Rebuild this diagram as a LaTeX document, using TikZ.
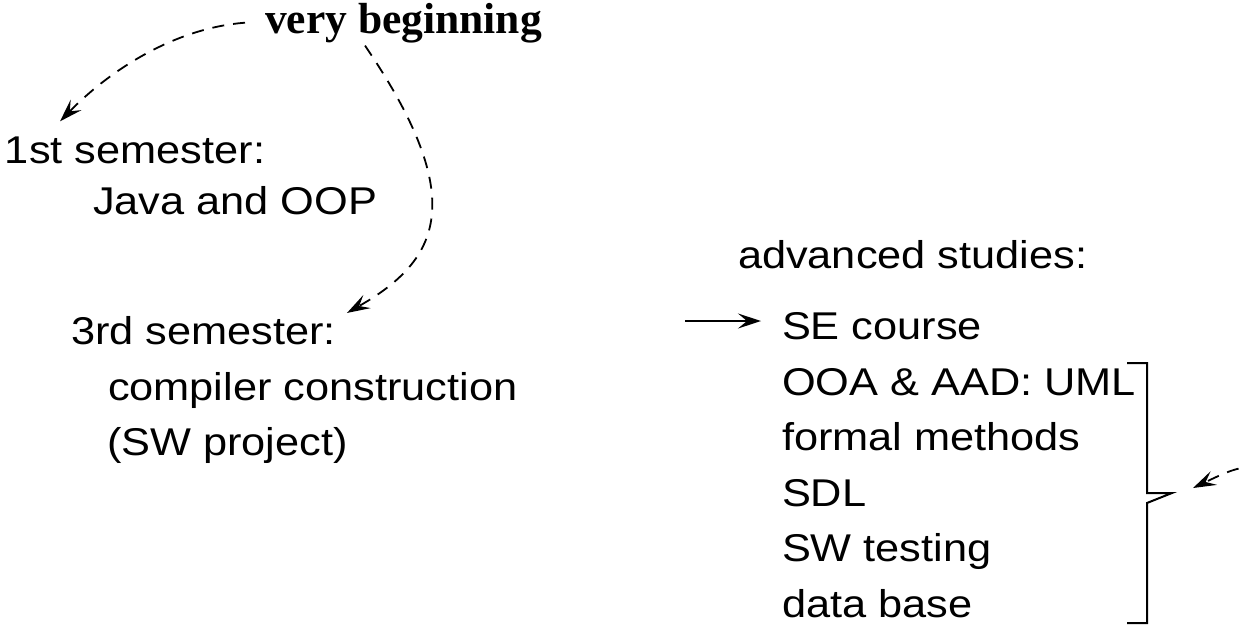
\documentclass[tikz,border=0pt]{standalone}
\usepackage{fontspec}
\usetikzlibrary{arrows.meta,calc}
\newfontfamily\sansf[FakeStretch=1.12]{Liberation Sans}
\newfontfamily\serifb{Liberation Serif}
\begin{document}
\begin{tikzpicture}[x=1pt,y=-1pt,
  lbl/.style={anchor=base west, inner sep=0pt, outer sep=0pt, font=\sansf\fontsize{38.7}{46}\selectfont},
  ttl/.style={anchor=base west, inner sep=0pt, outer sep=0pt, font=\serifb\bfseries\fontsize{43.5}{50}\selectfont},
  tipstyle/.style={-{Stealth[length=23pt,width=15pt,inset=9pt]}},
  dasharrow/.style={tipstyle, line width=1.8pt, dash pattern=on 12pt off 9pt},
  solidarrow/.style={tipstyle, line width=2pt},
  brk/.style={line width=2pt, line join=miter}]
\useasboundingbox (0,0) rectangle (1244,627);
\clip (0,0) rectangle (1244,627);

% texts
\node[ttl] (vb) at (265,33) {very beginning};
\node[lbl] (s1) at (5,163) {1st semester:};
\node[lbl] (java) at (93,214) {Java and OOP};
\node[lbl] (s3) at (71,344) {3rd semester:};
\node[lbl] (comp) at (108,400) {compiler construction};
\node[lbl] (swp) at (107,455) {(SW project)};
\node[lbl] (adv) at (738,268) {advanced studies:};
\node[lbl] (se) at (782,339) {SE course};
\node[lbl] (ooa) at (782,395) {OOA \& AAD: UML};
\node[lbl] (fm) at (782,450) {formal methods};
\node[lbl] (sdl) at (782,506) {SDL};
\node[lbl] (swt) at (782,561) {SW testing};
\node[lbl] (db) at (782,617) {data base};

% dashed arrows from "very beginning"
\draw[dasharrow] ($(vb.west)+(-20,0)$) .. controls (175,28) and (110,70) .. ($(s1.north west)+(55,-15)$);
\draw[dasharrow] ($(vb.south west)+(100,3)$) .. controls (470,200) and (440,260) .. ($(s3.north east)+(11,-3)$);

% arrow into advanced studies
\coordinate (ain) at (685,321);
\draw[solidarrow, shorten >=21pt] (ain) -- (ain -| se.west);

% bracket
\draw[brk] (1127,363) coordinate (btop) -- (1147,363) -- (1147,493) -- (1172,493) coordinate (bnotch) -- (1147,503) -- (1147,623) -- (1127,623) coordinate (bbot);

% dashed arrow entering from the right
\coordinate (rsrc) at (1280,462);
\draw[dasharrow] (rsrc) .. controls (1235,468) .. ($(bnotch)+(21,-5)$);
\end{tikzpicture}
\end{document}
